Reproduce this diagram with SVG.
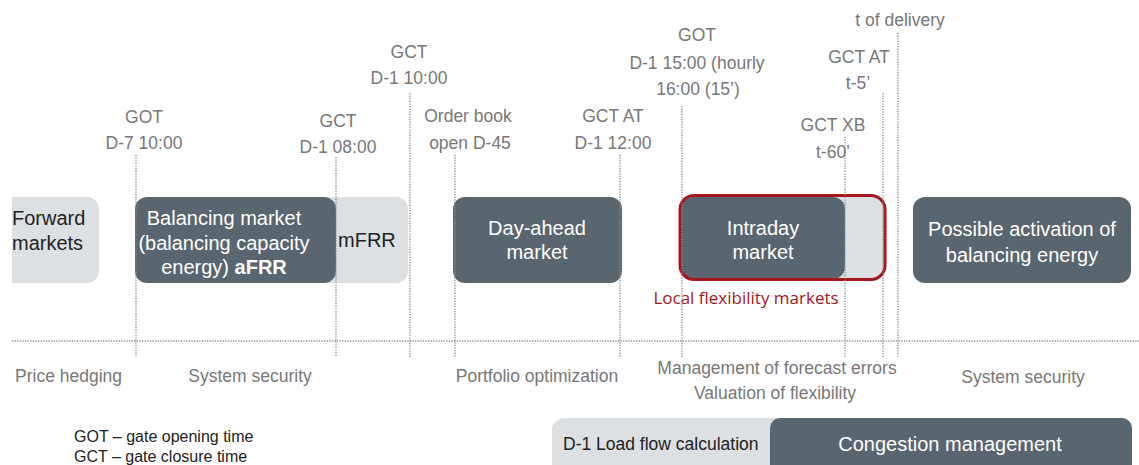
<svg xmlns="http://www.w3.org/2000/svg" width="1139" height="465" viewBox="0 0 1139 465">
<style>
.dark{fill:#59656f}
.light{fill:#dde0e3}
.lbl{font-family:"Liberation Sans",Arial,sans-serif;font-size:17.5px;fill:#777;text-anchor:middle}
.bx{font-family:"Liberation Sans",Arial,sans-serif;font-size:20px;fill:#fff;text-anchor:middle}
.dk{font-family:"Liberation Sans",Arial,sans-serif;font-size:20px;fill:#222}
.leg{font-family:"Liberation Sans",Arial,sans-serif;font-size:16px;fill:#222}
.red{font-family:"Open Sans","Noto Sans",sans-serif;font-size:17px;fill:#a5161d}
.dot{stroke:#8c8c8c;stroke-width:1.3;stroke-dasharray:1.3 1.3;fill:none}
</style>
<rect width="1139" height="465" fill="#fff"/>
<g id="forward">
<path class="light" d="M12 197 H87 A12 12 0 0 1 99 209 V271 A12 12 0 0 1 87 283 H12 Z"/>
<text class="dk" x="12" y="225">Forward</text>
<text class="dk" x="12" y="250">markets</text>
</g>
<g id="mfrr">
<rect class="light" x="300" y="197" width="108" height="86" rx="12"/>
<text class="dk" x="338" y="247">mFRR</text>
</g>
<g id="balancing">
<rect class="dark" x="135" y="197" width="201" height="86" rx="12"/>
<text class="bx" x="224" y="225">Balancing market</text>
<text class="bx" x="224" y="250">(balancing capacity</text>
<text class="bx" x="224" y="274">energy) <tspan font-weight="bold">aFRR</tspan></text>
</g>
<g id="dayahead">
<rect class="dark" x="453" y="197" width="169" height="86" rx="12"/>
<text class="bx" x="537" y="235">Day-ahead</text>
<text class="bx" x="537" y="259">market</text>
</g>
<g id="intraday">
<rect class="light" x="681" y="197" width="204" height="82" rx="12"/>
<rect class="dark" x="681" y="197" width="164" height="82" rx="12"/>
<text class="bx" x="763" y="235">Intraday</text>
<text class="bx" x="763" y="259">market</text>
<rect x="680" y="195.5" width="205" height="84" rx="14" fill="none" stroke="#a5161d" stroke-width="3"/>
<text class="red" x="746" y="304" text-anchor="middle">Local flexibility markets</text>
</g>
<g id="activation">
<rect class="dark" x="913" y="197" width="218" height="86" rx="12"/>
<text class="bx" x="1022" y="236">Possible activation of</text>
<text class="bx" x="1022" y="262">balancing energy</text>
</g>
<g id="congestion">
<rect class="light" x="552" y="418" width="580" height="60" rx="12"/>
<rect class="dark" x="770" y="418" width="362" height="60" rx="10"/>
<text class="leg" x="563" y="450" style="font-size:17.5px">D-1 Load flow calculation</text>
<text class="bx" x="950" y="451">Congestion management</text>
</g>
<g id="connectors">
<line class="dot" x1="12" y1="341" x2="1139" y2="341"/>
<line class="dot" x1="136" y1="155" x2="136" y2="357"/>
<line class="dot" x1="336" y1="157" x2="336" y2="357"/>
<line class="dot" x1="410" y1="93" x2="410" y2="357"/>
<line class="dot" x1="455" y1="155" x2="455" y2="357"/>
<line class="dot" x1="620" y1="155" x2="620" y2="357"/>
<line class="dot" x1="682" y1="106" x2="682" y2="357"/>
<line class="dot" x1="845" y1="137" x2="845" y2="357"/>
<line class="dot" x1="883" y1="93" x2="883" y2="357"/>
<line class="dot" x1="898" y1="33" x2="898" y2="357"/>
</g>
<g id="labels-top">
<text class="lbl" x="144" y="123">GOT</text>
<text class="lbl" x="144" y="149">D-7 10:00</text>
<text class="lbl" x="338" y="127">GCT</text>
<text class="lbl" x="338" y="153">D-1 08:00</text>
<text class="lbl" x="409" y="58">GCT</text>
<text class="lbl" x="409" y="84">D-1 10:00</text>
<text class="lbl" x="468" y="122">Order book</text>
<text class="lbl" x="470" y="149">open D-45</text>
<text class="lbl" x="613" y="122">GCT AT</text>
<text class="lbl" x="613" y="149">D-1 12:00</text>
<text class="lbl" x="697" y="41">GOT</text>
<text class="lbl" x="697" y="69">D-1 15:00 (hourly</text>
<text class="lbl" x="698" y="95">16:00 (15’)</text>
<text class="lbl" x="900" y="26">t of delivery</text>
<text class="lbl" x="859" y="63">GCT AT</text>
<text class="lbl" x="858" y="89">t-5’</text>
<text class="lbl" x="833" y="131">GCT XB</text>
<text class="lbl" x="833" y="158">t-60’</text>
</g>
<g id="labels-bottom">
<text class="lbl" x="15" y="382" text-anchor="start" style="text-anchor:start">Price hedging</text>
<text class="lbl" x="250" y="382">System security</text>
<text class="lbl" x="537" y="382">Portfolio optimization</text>
<text class="lbl" x="777" y="374">Management of forecast errors</text>
<text class="lbl" x="775" y="399">Valuation of flexibility</text>
<text class="lbl" x="1023" y="383">System security</text>
</g>
<g id="legend">
<text class="leg" x="74" y="442">GOT – gate opening time</text>
<text class="leg" x="74" y="462">GCT – gate closure time</text>
</g>
</svg>
